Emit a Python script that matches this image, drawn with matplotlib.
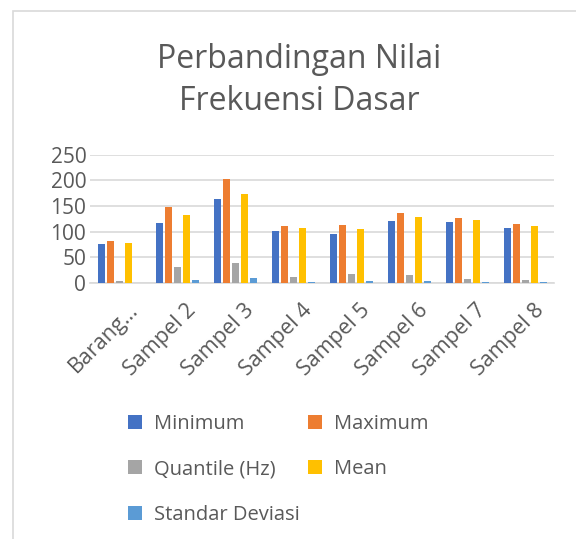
import matplotlib.pyplot as plt
from matplotlib.patches import Rectangle
from matplotlib.transforms import ScaledTranslation
import numpy as np

plt.rcParams['font.family'] = ['Open Sans', 'DejaVu Sans']

categories = ['Barang…', 'Sampel 2', 'Sampel 3', 'Sampel 4', 'Sampel 5', 'Sampel 6', 'Sampel 7', 'Sampel 8']

minimum = [76, 116, 163, 101, 95, 120, 118, 108]
maximum = [81, 148, 203, 112, 113, 136, 127, 115]
quantile = [4.5, 32, 39, 12, 18, 15.5, 8.5, 6]
mean = [78, 132, 174, 107, 105, 128.5, 123, 111]
std_dev = [0.5, 6.5, 9.5, 2.5, 4.5, 4.5, 2.5, 2]

series = [
    ('Minimum', minimum, '#4472C4'),
    ('Maximum', maximum, '#ED7D31'),
    ('Quantile (Hz)', quantile, '#A5A5A5'),
    ('Mean', mean, '#FFC000'),
    ('Standar Deviasi', std_dev, '#5B9BD5'),
]

text_col = '#595959'

fig = plt.figure(figsize=(5.76, 5.39), dpi=100)

# chart frame (left and top edges visible)
fig.patches.append(Rectangle((0.0226, -0.1), 1.2, 1.0805, transform=fig.transFigure,
                             fill=False, edgecolor='#D9D9D9', linewidth=1.2))

ax = fig.add_axes([0.157, 0.475, 0.805, 0.238])

x = np.arange(len(categories))
pitch = 0.155
width = 0.12
for i, (name, vals, col) in enumerate(series):
    ax.bar(x + (i - 2) * pitch, vals, width, color=col, label=name, zorder=3)

ax.set_ylim(0, 250)
ax.set_xlim(-0.5, len(categories) - 0.5)
ax.set_yticks(range(0, 251, 50))
ax.yaxis.grid(True, color='#D9D9D9', linewidth=1.2, zorder=0)
for s in ['top', 'right', 'left']:
    ax.spines[s].set_visible(False)
ax.spines['bottom'].set_color('#D9D9D9')
ax.spines['bottom'].set_linewidth(1.2)
ax.tick_params(axis='y', length=0, labelsize=15, colors=text_col, pad=3)
ax.tick_params(axis='x', length=0, labelsize=15.5, colors=text_col, pad=12)
ax.set_xticks(x)
ax.set_xticklabels(categories, rotation=45, ha='right', rotation_mode='anchor')
shift = ScaledTranslation(0.08, 0, fig.dpi_scale_trans)
for lbl in ax.get_xticklabels():
    lbl.set_transform(lbl.get_transform() + shift)

fig.text(0.519, 0.85, 'Perbandingan Nilai\nFrekuensi Dasar', ha='center', va='center',
         fontsize=23, color=text_col, linespacing=1.35)

handles, labels = ax.get_legend_handles_labels()
order = [0, 2, 4, 1, 3]
fig.legend([handles[i] for i in order], [labels[i] for i in order], ncol=2,
           loc='upper left', bbox_to_anchor=(0.191, 0.265),
           frameon=False, fontsize=14.5, labelcolor=text_col, handlelength=0.7,
           handleheight=0.7, handletextpad=0.6, columnspacing=0.4, labelspacing=1.25)

fig.savefig('out.png', dpi=100)
